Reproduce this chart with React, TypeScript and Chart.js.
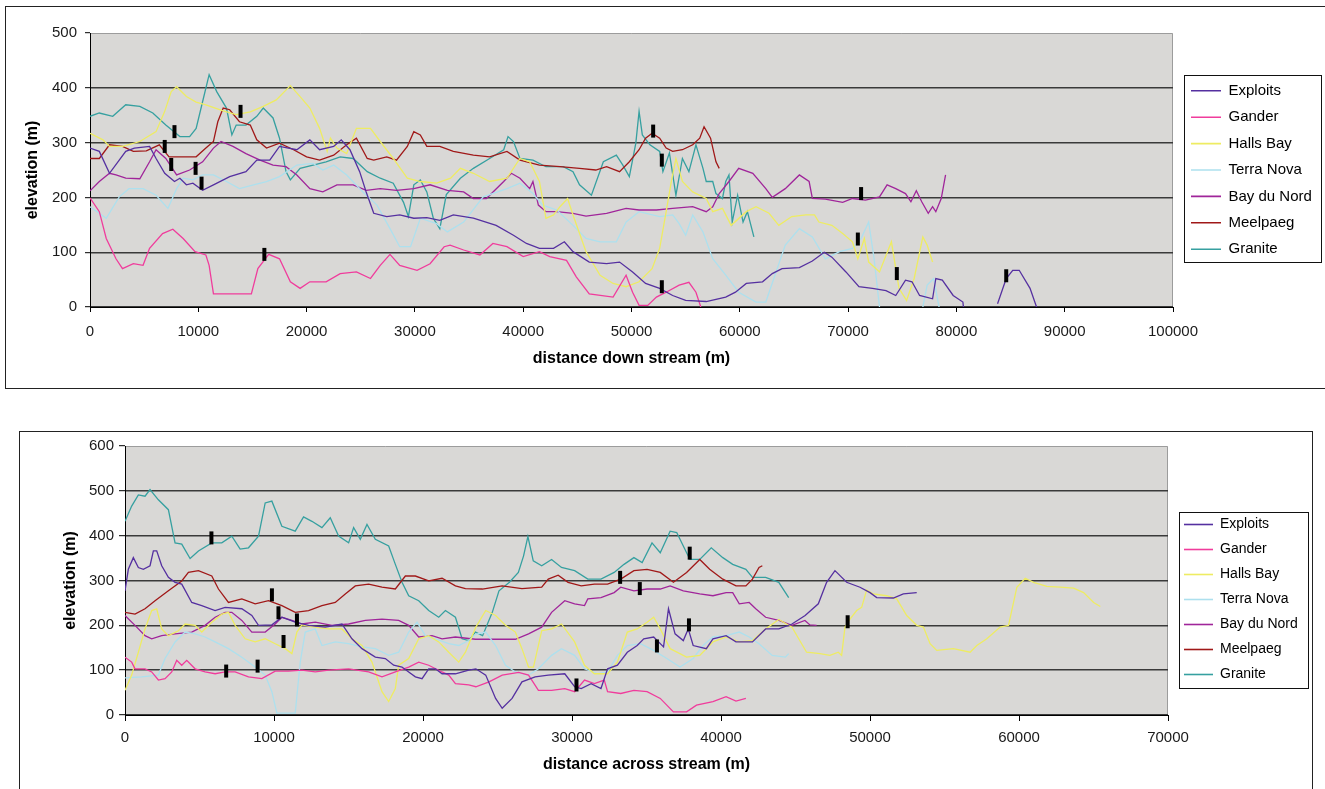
import React, { useEffect, useRef } from 'react';
import { Chart, registerables } from 'chart.js';

Chart.register(...registerables);

type Pt = [number, number | null];

// ---------------- names & colours ----------------
const SERIES_NAMES = ['Exploits', 'Gander', 'Halls Bay', 'Terra Nova', 'Bay du Nord', 'Meelpaeg', 'Granite'];
const SERIES_COLORS = ['#5530a0', '#f03c9c', '#eeec62', '#ade0ee', '#a0259a', '#a01818', '#36a0a0'];

// ---------------- top chart: distance down stream ----------------
const downExploits: Pt[] = [[0,290],[860,284],[1800,244],[3300,284],[4100,290],[5500,293],[6100,271],[6900,244],[7800,229],[8300,235],[8900,223],[9500,226],[10400,213],[11400,223],[12900,238],[14400,247],[15400,268],[16600,268],[17500,293],[19100,287],[20300,305],[21200,287],[22500,293],[23200,305],[24000,287],[24900,247],[25500,210],[26200,171],[27400,165],[28600,168],[29900,162],[31100,163],[32300,158],[33550,168],[35400,162],[37500,149],[39100,131],[40300,116],[41500,107],[42800,107],[43800,119],[44600,101],[46100,82],[47700,79],[48900,82],[50100,64],[51300,43],[52600,34],[53800,21],[55000,12],[56900,10],[58700,18],[59600,27],[60600,43],[62100,46],[63000,61],[63900,70],[65500,72],[66700,84],[67800,100],[68500,91],[69800,64],[71000,37],[72250,34],[73500,30],[74400,21],[75300,49],[75900,46],[76600,21],[77800,15],[78100,52],[78700,49],[79700,21],[80600,9],[80650,0],[82000,null],[83800,6],[84600,52],[85200,67],[85800,67],[86800,34],[87400,0]];
const downGander: Pt[] = [[0,199],[860,174],[1500,125],[2400,88],[3000,70],[4000,79],[4900,76],[5500,107],[6700,134],[7650,142],[8600,125],[9700,101],[10700,95],[11000,76],[11400,24],[14900,24],[15500,70],[16500,96],[17500,88],[18500,46],[19400,34],[20300,46],[21800,46],[23100,61],[24600,64],[25900,52],[26800,76],[27700,96],[28600,76],[30200,67],[31400,79],[32700,110],[33250,113],[34500,104],[36000,95],[37200,116],[38500,110],[40000,92],[41500,101],[42450,92],[44000,85],[44900,55],[46100,24],[48300,18],[49500,58],[50100,27],[50700,3],[51500,3],[52300,18],[53200,27],[54400,40],[55300,45],[55950,27],[56400,0]];
const downHallsBay: Pt[] = [[0,317],[1200,305],[1800,293],[3000,293],[4600,302],[6100,320],[6900,357],[7500,393],[8000,402],[8900,384],[9800,374],[10700,369],[12300,358],[13500,351],[14800,356],[16000,366],[17200,378],[18500,404],[19400,384],[20300,363],[21200,326],[21900,284],[22200,308],[22800,290],[23700,280],[24600,326],[25900,326],[26800,302],[28000,271],[29300,235],[30500,229],[32000,226],[33300,235],[34200,253],[35400,244],[36900,229],[38500,235],[39700,271],[40600,265],[41500,229],[42100,162],[42800,168],[43400,183],[44100,198],[44600,168],[45800,101],[47100,58],[48300,43],[49500,37],[50700,46],[51900,70],[52600,107],[53200,174],[53650,226],[54100,271],[54700,229],[55650,210],[56900,198],[57500,174],[58400,180],[59200,149],[60600,174],[61500,183],[62700,171],[63600,149],[64800,165],[66100,168],[66900,168],[67300,155],[68500,149],[69500,134],[70400,119],[70900,88],[71500,125],[71900,82],[72900,64],[74000,119],[74700,34],[75400,12],[76100,52],[76900,128],[77300,113],[77800,82]];
const downTerraNova: Pt[] = [[0,183],[1500,162],[2700,201],[3600,216],[4900,216],[6100,204],[7200,180],[8000,216],[8600,235],[9500,232],[10400,241],[11400,241],[12600,229],[13800,216],[15100,223],[16300,229],[17500,238],[19100,259],[20600,262],[21500,250],[22500,259],[23700,241],[25200,210],[26500,186],[27700,143],[28600,110],[29600,110],[30500,162],[32000,152],[33000,137],[34500,155],[36300,201],[38500,216],[39700,226],[40900,207],[41800,186],[43100,177],[44600,149],[45800,125],[47100,119],[48600,119],[49500,155],[50700,174],[52600,165],[53800,168],[54400,152],[55000,131],[55650,168],[56600,137],[57500,88],[58700,58],[59900,27],[61500,9],[62400,9],[63300,61],[64200,113],[65500,143],[66700,128],[67900,88],[69200,101],[70400,107],[71200,125],[71900,155],[72400,88],[72900,0],[74900,null],[76900,0],[77300,40],[77900,52],[78400,0]];
const downBayDuNord: Pt[] = [[0,212],[860,229],[1800,244],[2400,241],[3300,235],[4600,234],[5500,265],[6100,287],[7000,271],[8000,241],[9200,250],[10400,265],[11400,290],[12100,302],[13200,293],[14400,280],[15700,268],[16900,259],[18100,256],[19100,241],[20300,216],[21500,210],[22800,223],[24300,223],[25500,213],[26800,216],[28300,213],[29900,216],[31400,223],[33000,213],[34500,210],[35400,198],[36600,198],[38200,229],[38900,244],[39700,235],[40600,216],[40900,229],[41400,186],[42100,174],[43100,174],[44600,171],[45800,166],[47700,171],[49500,180],[50700,177],[52300,177],[53800,180],[55650,183],[56900,174],[57500,183],[58100,207],[59000,229],[59900,253],[61200,244],[62400,216],[63000,200],[64200,216],[65500,241],[66400,229],[66700,198],[67900,197],[69500,191],[70400,198],[71600,195],[72900,201],[73600,223],[74400,216],[75300,207],[75800,192],[76300,212],[76800,192],[77400,171],[77800,183],[78100,174],[78600,198],[79000,241]];
const downMeelpaeg: Pt[] = [[0,271],[860,271],[1800,296],[3000,293],[4000,284],[5200,285],[6400,296],[7300,274],[8600,274],[9800,274],[10700,290],[11400,302],[11800,338],[12300,363],[12900,360],[13800,338],[14800,332],[15400,305],[16300,290],[17500,299],[18800,287],[20000,274],[21200,268],[22500,277],[23700,296],[24600,308],[25600,271],[26200,268],[27400,274],[28300,268],[29300,293],[29900,320],[30500,314],[31100,293],[32300,293],[33550,284],[35400,277],[36900,274],[38500,284],[39700,268],[41500,259],[43400,256],[45200,253],[46700,250],[47700,256],[48900,247],[49800,265],[50700,287],[51300,308],[51900,317],[52600,308],[53200,290],[53800,284],[54700,287],[55650,296],[56300,308],[56700,329],[57300,308],[57800,265],[58100,253]];
const downGranite: Pt[] = [[0,348],[860,354],[2100,348],[3300,369],[4600,366],[5800,354],[7000,332],[8300,311],[9200,311],[9800,326],[10400,375],[11000,424],[11700,393],[12600,363],[13100,314],[13500,332],[14400,332],[15400,348],[16000,363],[16900,345],[17500,308],[18100,247],[18500,232],[19400,253],[20600,259],[21800,265],[23100,274],[24300,271],[25600,247],[26800,235],[28000,226],[28950,191],[29400,165],[29900,223],[30500,232],[31100,210],[31700,162],[32300,143],[32900,205],[34200,235],[35400,253],[36900,271],[38200,287],[38600,311],[39100,302],[39700,271],[40900,268],[42100,256],[43700,256],[44600,247],[45200,223],[46300,204],[47400,265],[48600,277],[49200,259],[49800,238],[50400,299],[50700,357],[51000,314],[51700,296],[52600,284],[52900,247],[53500,281],[54100,204],[54700,271],[55300,247],[55950,296],[56600,253],[56900,229],[57500,229],[57800,207],[58400,198],[58700,229],[59000,241],[59300,155],[59800,204],[60300,155],[60700,174],[61300,128]];
const downMarkers: Pt[] = [[7800,320],[6900,293],[7500,260],[9750,253],[10300,226],[13900,357],[16100,96],[52000,321],[52800,268],[52800,37],[71200,207],[70900,124],[74500,61],[84600,57]];

// ---------------- bottom chart: distance across stream ----------------
const acrossExploits: Pt[] = [[0,277],[224,325],[560,351],[896,329],[1232,325],[1680,333],[1904,366],[2128,366],[2464,333],[2912,307],[3360,296],[3808,292],[4480,251],[5152,244],[6048,233],[6720,240],[7840,237],[8512,222],[8960,200],[9856,201],[10528,218],[11424,207],[12320,200],[13440,196],[14560,203],[15232,170],[15904,148],[16800,129],[17472,126],[18032,111],[18592,107],[19040,96],[19488,85],[19936,81],[20384,103],[20832,103],[21280,92],[22176,92],[23072,100],[23547,103],[24210,89],[24873,37],[25315,15],[25978,37],[26641,74],[27525,85],[28409,89],[29514,92],[30177,63],[30619,59],[31282,70],[31945,59],[32387,103],[33050,111],[33713,140],[34376,155],[34818,170],[35481,174],[36144,152],[36475,237],[36917,181],[37470,166],[37801,192],[38133,155],[39017,148],[39459,170],[40343,177],[41006,163],[42111,163],[42995,192],[43879,192],[44763,203],[45647,222],[46531,248],[47088,296],[47648,322],[48432,296],[49328,285],[50000,273],[50448,262],[51568,261],[52240,270],[53136,273]];
const acrossGander: Pt[] = [[0,129],[448,118],[672,103],[1344,103],[1792,96],[2240,78],[2688,81],[3136,96],[3472,122],[3808,111],[4144,122],[4704,103],[5376,96],[6048,92],[6720,96],[7392,96],[8288,85],[9184,81],[10080,98],[10976,98],[11872,100],[12768,96],[13664,100],[15008,103],[16352,96],[17248,85],[18144,96],[19040,107],[19712,118],[20384,111],[21280,96],[21728,89],[22176,70],[23072,67],[23547,63],[24430,74],[25315,89],[26420,95],[27083,89],[27746,55],[28630,55],[29514,59],[30177,52],[30840,78],[31503,70],[32166,78],[32387,52],[33271,48],[34155,55],[35039,52],[35923,37],[36807,7],[37691,7],[38354,22],[39459,30],[40343,41],[41006,31],[41669,37]];
const acrossHallsBay: Pt[] = [[0,55],[448,89],[896,140],[1344,192],[1792,233],[2128,237],[2464,192],[2912,177],[3584,188],[4032,203],[4704,200],[5152,185],[5824,207],[6496,225],[6944,229],[7392,200],[8064,170],[8736,163],[9408,170],[10080,159],[10752,148],[11200,137],[11536,185],[11872,201],[12768,196],[13664,192],[14560,192],[15232,170],[15904,155],[16576,118],[17248,52],[17696,30],[18144,59],[18368,111],[19040,126],[19712,170],[20384,177],[21056,163],[21728,140],[22400,118],[22848,140],[23547,196],[24210,233],[24873,222],[25536,200],[26199,185],[26641,148],[27083,107],[27414,107],[27967,188],[28630,192],[29293,203],[30177,163],[30840,111],[31503,92],[32387,92],[33050,118],[33713,185],[34376,192],[35039,207],[35481,218],[35923,192],[36586,148],[37691,129],[38575,133],[39459,163],[40343,174],[41227,163],[42111,166],[42995,192],[43879,213],[44763,196],[45744,140],[46640,137],[47312,133],[47872,140],[48096,133],[48320,196],[48656,214],[49104,233],[49440,240],[49776,279],[50224,270],[51120,266],[51792,259],[52464,222],[53136,200],[53584,196],[54032,159],[54480,144],[55600,148],[56720,140],[57168,155],[57840,170],[58736,196],[59296,200],[59856,285],[60416,305],[60976,296],[61872,287],[62768,285],[63664,283],[64336,273],[65008,251],[65456,242]];
const acrossTerraNova: Pt[] = [[0,83],[1120,85],[2240,89],[2688,126],[3360,163],[4032,185],[4704,181],[5376,174],[6048,163],[6944,148],[7840,129],[8736,107],[9408,89],[9856,52],[10192,4],[11424,4],[11760,118],[12096,185],[12768,192],[13216,155],[14112,163],[15008,159],[15904,152],[16800,148],[17696,133],[18368,140],[19040,185],[19600,207],[20160,177],[20832,170],[21728,159],[22400,155],[23072,166],[23520,180],[24210,185],[24873,155],[25536,111],[26199,96],[27083,89],[27746,103],[28630,133],[29293,148],[30177,133],[30840,103],[31724,92],[32387,96],[33050,133],[33713,155],[34597,159],[35481,144],[36365,126],[37249,107],[38133,126],[38796,155],[39459,174],[40343,177],[41227,185],[41890,174],[42553,159],[43437,133],[44321,129],[44542,137]];
const acrossBayDuNord: Pt[] = [[0,222],[672,200],[1344,177],[1792,170],[2464,177],[3360,181],[4480,185],[5376,200],[6048,218],[6720,229],[7168,229],[7840,211],[8512,185],[9408,185],[10080,203],[10528,218],[11200,211],[11872,203],[12768,207],[13888,200],[15008,203],[16128,211],[17248,214],[18368,211],[19040,200],[19712,174],[20608,177],[21280,170],[22176,174],[23520,169],[24430,169],[26199,169],[27083,181],[27967,196],[28630,229],[29514,255],[30177,248],[30840,244],[31061,259],[31945,262],[32829,273],[33271,285],[34155,277],[35039,281],[35923,281],[36586,288],[37470,277],[38575,270],[39459,266],[40343,273],[40785,273],[41227,248],[41890,251],[42332,237],[42995,218],[43879,211],[44763,200],[45632,211],[45968,201],[46416,200]];
const acrossMeelpaeg: Pt[] = [[0,229],[672,225],[1344,237],[2016,255],[2912,277],[3808,299],[4256,318],[4928,322],[5824,310],[6272,281],[6944,251],[7840,259],[8736,248],[9632,255],[10528,244],[11424,229],[12320,233],[13216,244],[14112,251],[14784,270],[15456,288],[16352,292],[17248,285],[18144,281],[18816,310],[19488,310],[20384,299],[21280,305],[22176,288],[22848,282],[23989,281],[25315,288],[26641,282],[27967,285],[28409,303],[29072,312],[29735,296],[30619,288],[31503,292],[32387,292],[33271,303],[34155,322],[35039,325],[35923,318],[36807,296],[37691,318],[38575,347],[39238,325],[40122,303],[41006,288],[41669,288],[42111,303],[42553,329],[42774,333]];
const acrossGranite: Pt[] = [[0,432],[448,466],[896,491],[1344,488],[1680,503],[2240,480],[2912,458],[3360,384],[3808,381],[4368,349],[4928,366],[5824,384],[6496,384],[7168,399],[7728,370],[8288,373],[8960,399],[9408,473],[9856,477],[10528,421],[11424,410],[11984,442],[12544,432],[13216,418],[13776,440],[14336,399],[15008,384],[15344,418],[15792,392],[16240,425],[16800,392],[17696,377],[18144,336],[18592,296],[19040,266],[19712,255],[20384,233],[21056,218],[21504,233],[22176,218],[22624,170],[23072,166],[23520,185],[24000,177],[24650,229],[25100,277],[25800,296],[26400,318],[26750,355],[27040,398],[27400,344],[27967,333],[28630,347],[29293,329],[30177,322],[31061,303],[31945,303],[32829,318],[33492,336],[34155,351],[34708,340],[35370,384],[35923,362],[36586,410],[37028,407],[37470,377],[37912,347],[38575,347],[39348,373],[40122,351],[40785,336],[41669,325],[42111,307],[42995,307],[43879,296],[44542,262]];
const acrossMarkers: Pt[] = [[5800,395],[9860,268],[10300,228],[11540,212],[10640,164],[6790,98],[8900,109],[33230,307],[34550,282],[37900,361],[37850,201],[35700,154],[30300,67],[48500,208]];

const downSeries: Pt[][] = [downExploits, downGander, downHallsBay, downTerraNova, downBayDuNord, downMeelpaeg, downGranite];
const acrossSeries: Pt[][] = [acrossExploits, acrossGander, acrossHallsBay, acrossTerraNova, acrossBayDuNord, acrossMeelpaeg, acrossGranite];

const FONT = "'Liberation Sans', Arial, Helvetica, sans-serif";
Chart.defaults.font.family = FONT;
Chart.defaults.color = '#111';

// ---------------- plugins ----------------
const plotBg = {
  id: 'plotBg',
  beforeDraw(chart: any) {
    const { ctx, chartArea: a } = chart;
    ctx.save();
    ctx.fillStyle = '#d9d8d6';
    ctx.fillRect(a.left, a.top, a.right - a.left, a.bottom - a.top);
    ctx.strokeStyle = '#9c9c9c';
    ctx.lineWidth = 1;
    ctx.beginPath();
    ctx.moveTo(a.left, a.top + 0.5);
    ctx.lineTo(a.right - 0.5, a.top + 0.5);
    ctx.lineTo(a.right - 0.5, a.bottom);
    ctx.stroke();
    ctx.restore();
  },
};

const legendBox = {
  id: 'legendBox',
  afterLayout(chart: any, _args: any, opts: any) {
    const lg = chart.legend;
    if (!lg) return;
    lg.left += opts.dx; lg.right += opts.dx;
    lg.top += opts.dy; lg.bottom += opts.dy;
  },
  afterDraw(chart: any, _args: any, opts: any) {
    const lg = chart.legend;
    if (!lg || !lg.legendHitBoxes || !lg.legendHitBoxes.length) return;
    const hb = lg.legendHitBoxes;
    const first = hb[0];
    const last = hb[hb.length - 1];
    const x = Math.round(first.left - opts.bl) + 0.5;
    const y = Math.round(first.top - opts.bt) + 0.5;
    const bottom = Math.round(last.top + last.height + opts.bb) + 0.5;
    const { ctx } = chart;
    ctx.save();
    ctx.strokeStyle = '#111';
    ctx.lineWidth = 1;
    ctx.strokeRect(x, y, opts.w, bottom - y);
    ctx.restore();
  },
};

type Spec = {
  series: Pt[][];
  markers: Pt[];
  xMax: number; yMax: number;
  xTitle: string;
  pad: { left: number; top: number; right: number; bottom: number };
  yAxisW: number; xAxisH: number;
  tickLen: number; yTickPad: number; xTickPad: number;
  yTitlePad: number; xTitlePad: number;
  legendW: number; legendFont: number; legendPad: number; swatch: number;
  box: { dx: number; dy: number; bl: number; bt: number; bb: number; w: number };
};

function buildConfig(s: Spec): any {
  const datasets: any[] = s.series.map((pts, i) => ({
    label: SERIES_NAMES[i],
    data: pts.map(([x, y]) => ({ x, y })),
    borderColor: SERIES_COLORS[i],
    backgroundColor: SERIES_COLORS[i],
    borderWidth: 1.3,
    pointRadius: 0,
    tension: 0,
    fill: false,
    spanGaps: false,
    order: 0,
  }));
  datasets.push({
    label: 'markers',
    data: s.markers.map(([x, y]) => ({ x, y })),
    showLine: false,
    pointStyle: 'line',
    rotation: 90,
    pointRadius: 6.5,
    pointBorderWidth: 4,
    pointBorderColor: '#000',
    borderColor: '#000',
    backgroundColor: '#000',
    order: -1,
  });
  const tickFont = { size: 15, family: FONT };
  const titleFont = { size: 16, weight: 'bold' as const, family: FONT };
  return {
    type: 'line',
    data: { datasets },
    plugins: [plotBg, legendBox],
    options: {
      responsive: false,
      maintainAspectRatio: false,
      animation: false,
      events: [],
      layout: { padding: s.pad, autoPadding: false },
      scales: {
        x: {
          type: 'linear',
          min: 0, max: s.xMax,
          afterFit: (sc: any) => { sc.height = s.xAxisH; },
          ticks: {
            stepSize: 10000, autoSkip: false, maxRotation: 0, minRotation: 0,
            padding: s.xTickPad, font: tickFont, color: '#1a1a1a',
            callback: (v: any) => String(v),
          },
          grid: { drawOnChartArea: false, drawTicks: true, tickLength: s.tickLen, tickColor: '#000', tickWidth: 1 },
          border: { color: '#000', width: 1 },
          title: { display: true, text: s.xTitle, font: titleFont, color: '#000', padding: { top: 0, bottom: s.xTitlePad } },
        },
        y: {
          type: 'linear',
          min: 0, max: s.yMax,
          afterFit: (sc: any) => { sc.width = s.yAxisW; },
          ticks: { stepSize: 100, padding: s.yTickPad, font: tickFont, color: '#1a1a1a', callback: (v: any) => String(v) },
          grid: {
            color: (c: any) => (c.tick && c.tick.value >= s.yMax ? 'rgba(0,0,0,0)' : '#3a3a3a'),
            lineWidth: 1.4,
            tickLength: s.tickLen, tickColor: '#000', tickWidth: 1,
          },
          border: { color: '#000', width: 1 },
          title: { display: true, text: 'elevation (m)', font: titleFont, color: '#000', padding: { top: s.yTitlePad, bottom: 0 } },
        },
      },
      plugins: {
        tooltip: { enabled: false },
        legend: {
          display: true,
          position: 'right',
          align: 'center',
          fullSize: false,
          maxWidth: s.legendW,
          labels: {
            usePointStyle: true,
            pointStyleWidth: s.swatch,
            padding: s.legendPad,
            color: '#000',
            font: { size: s.legendFont, family: FONT },
            generateLabels: (chart: any) =>
              chart.data.datasets
                .map((ds: any, i: number) => ({ ds, i }))
                .filter(({ ds }: any) => ds.label !== 'markers')
                .map(({ ds, i }: any) => ({
                  text: ds.label,
                  fillStyle: ds.borderColor,
                  strokeStyle: ds.borderColor,
                  lineWidth: 1.6,
                  pointStyle: 'line',
                  hidden: false,
                  datasetIndex: i,
                  fontColor: '#000',
                })),
          },
        },
        legendBox: s.box,
      },
    },
  };
}

const topSpec: Spec = {
  series: downSeries,
  markers: downMarkers,
  xMax: 100000, yMax: 500,
  xTitle: 'distance down stream (m)',
  pad: { left: 0, top: 26, right: 11, bottom: 0 },
  yAxisW: 84, xAxisH: 81,
  tickLen: 5, yTickPad: 8, xTickPad: 10.5,
  yTitlePad: 17.4, xTitlePad: 19.4,
  legendW: 140, legendFont: 15, legendPad: 11.4, swatch: 30,
  box: { dx: 6.6, dy: 0, bl: 7, bt: 8.3, bb: 5.3, w: 137 },
};

const bottomSpec: Spec = {
  series: acrossSeries,
  markers: acrossMarkers,
  xMax: 70000, yMax: 600,
  xTitle: 'distance across stream (m)',
  pad: { left: 0, top: 13, right: 12, bottom: 0 },
  yAxisW: 105, xAxisH: 95,
  tickLen: 6, yTickPad: 5, xTickPad: 8,
  yTitlePad: 41.4, xTitlePad: 35.4,
  legendW: 132, legendFont: 14, legendPad: 11, swatch: 29,
  box: { dx: 5, dy: 19, bl: 5, bt: 6, bb: 6, w: 129 },
};

function Panel({ spec, w, h }: { spec: Spec; w: number; h: number }) {
  const ref = useRef<HTMLCanvasElement | null>(null);
  useEffect(() => {
    if (!ref.current) return;
    const chart = new Chart(ref.current, buildConfig(spec));
    return () => chart.destroy();
  }, [spec]);
  return (
    <canvas
      ref={ref}
      width={w}
      height={h}
      style={{ position: 'absolute', left: 0, top: 0, width: w, height: h, display: 'block' }}
    />
  );
}

export default function App() {
  return (
    <div style={{ position: 'fixed', left: 0, top: 0, width: 1325, height: 789, overflow: 'hidden', background: '#fff' }}>
      <div style={{ position: 'absolute', left: 5, top: 6, width: 1330, height: 383, border: '1px solid #222', boxSizing: 'border-box', background: '#fff' }}>
        <Panel spec={topSpec} w={1318} h={381} />
      </div>
      <div style={{ position: 'absolute', left: 19, top: 431, width: 1294, height: 380, border: '1px solid #222', boxSizing: 'border-box', background: '#fff' }}>
        <Panel spec={bottomSpec} w={1292} h={378} />
      </div>
    </div>
  );
}
